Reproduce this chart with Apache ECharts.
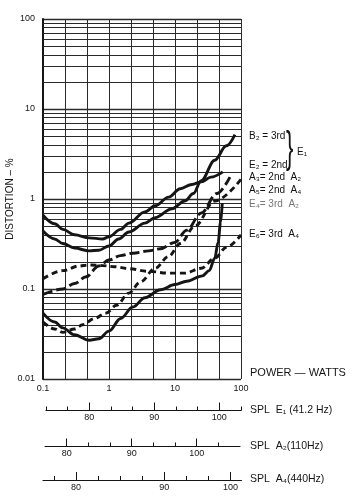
<!DOCTYPE html>
<html><head><meta charset="utf-8">
<script src="https://cdn.jsdelivr.net/npm/echarts@6/dist/echarts.min.js"></script>
<style>html,body{margin:0;padding:0;background:#fff}#c{width:356px;height:500px}</style>
</head><body><div id="c"></div>
<script>
// ---- data (power in watts, distortion in %) ----
const e2W = [0.1, 0.15, 0.2, 0.3, 0.5, 0.8, 1.0, 1.5, 2, 3.5, 5, 8, 12, 18, 25, 35, 53];
const e2D = [0.66, 0.53, 0.46, 0.4, 0.37, 0.36, 0.38, 0.46, 0.54, 0.72, 0.84, 1.05, 1.3, 1.45, 1.55, 1.75, 2.0];

const b2W = [0.1, 0.15, 0.2, 0.3, 0.5, 0.7, 1.0, 1.4, 2, 3.5, 5, 9, 14, 19, 25, 40, 60, 81];
const b2D = [0.44, 0.36, 0.32, 0.285, 0.265, 0.27, 0.3, 0.36, 0.43, 0.54, 0.62, 0.78, 0.95, 1.15, 1.6, 2.7, 3.9, 5.2];

const a3W = [0.1, 0.2, 0.3, 0.45, 0.7, 1, 1.5, 2.3, 4, 6, 10, 15, 25, 43, 68];
const a3D = [0.087, 0.1, 0.115, 0.137, 0.18, 0.21, 0.235, 0.25, 0.265, 0.28, 0.33, 0.45, 0.7, 1.15, 1.75];

const a5W = [0.1, 0.15, 0.2, 0.3, 0.4, 0.6, 0.9, 1.3, 2, 3, 5, 8, 12, 20, 40, 100];
const a5D = [0.043, 0.036, 0.033, 0.036, 0.04, 0.047, 0.054, 0.066, 0.09, 0.12, 0.17, 0.23, 0.32, 0.5, 0.95, 1.65];

const e4W = [0.1, 0.15, 0.2, 0.3, 0.5, 0.7, 1, 1.5, 2.3, 3.5, 6, 10, 15, 26, 33, 40, 45, 49, 52];
const e4D = [0.054, 0.043, 0.037, 0.031, 0.027, 0.028, 0.034, 0.047, 0.063, 0.08, 0.098, 0.112, 0.122, 0.14, 0.16, 0.22, 0.33, 0.55, 0.9];

const e6W = [0.1, 0.2, 0.35, 0.5, 0.8, 1.2, 2, 4, 8, 14, 25, 40, 60, 100];
const e6D = [0.13, 0.16, 0.18, 0.185, 0.182, 0.177, 0.168, 0.157, 0.15, 0.15, 0.17, 0.22, 0.29, 0.4];

// SPL rulers (tick categories; label text where printed)
const splE1Labels = ['', '', '80', '', '', '90', '', '', '100', ''];
const splA2Labels = ['', '80', '', '', '90', '', '', '100', '', ''];
const splA2HasTick = [0, 1, 1, 1, 1, 1, 1, 1, 1, 0];
const splA4Labels = ['', '80', '', '', '', '90', '', '', '100'];

const legendTexts = [
  ['B₂ = 3rd', 136, '#111'],
  ['E₂ = 2nd', 165, '#111'],
  ['A₃= 2nd  A₂', 177, '#111'],
  ['A₅= 2nd  A₄', 190, '#111'],
  ['E₄= 3rd  A₂', 204, '#777'],
  ['E₆= 3rd  A₄', 234, '#111']
];
const rulerTitles = [
  ['SPL  E₁ (41.2 Hz)', 410],
  ['SPL  A₂(110Hz)', 446],
  ['SPL  A₄(440Hz)', 479]
];

// ---- helpers ----
const zip = (xs, ys) => xs.map((x, i) => [x, ys[i]]);
const minorY = [];
[0.01, 0.1, 1, 10].forEach(d => { for (let k = 2; k <= 9; k++) minorY.push(+(d * k).toPrecision(3)); });

const FONT = '"Liberation Sans", "DejaVu Sans", sans-serif';
const INK = '#151515';
const GRIDC = '#2a2a2a';

function curve(name, xs, ys, type) {
  return {
    name, type: 'line', xAxisIndex: 0, yAxisIndex: 0,
    data: zip(xs, ys), showSymbol: false, smooth: 0.35, smoothMonotone: 'x',
    z: 5, silent: true,
    lineStyle: { color: INK, width: 2.9, type: type, cap: 'butt' }
  };
}

function ruler(gridIndex, labels, tickMask, boundary) {
  const base = {
    type: 'category', gridIndex, data: labels, boundaryGap: boundary, position: 'bottom',
    splitLine: { show: false }
  };
  return [
    Object.assign({}, base, {
      axisLine: { show: true, lineStyle: { color: INK, width: 1.2 } },
      axisTick: { show: true, inside: true, length: 4, alignWithLabel: true,
        interval: tickMask ? (i) => !!tickMask[i] : 0, lineStyle: { color: INK, width: 1 } },
      axisLabel: { show: true, interval: 0, fontSize: 9, margin: 3, color: INK, fontFamily: FONT }
    }),
    Object.assign({}, base, {
      axisLine: { show: false },
      axisTick: { show: true, inside: true, length: 8, alignWithLabel: true,
        interval: (i, v) => v !== '', lineStyle: { color: INK, width: 1 } },
      axisLabel: { show: false }
    })
  ];
}

const graphics = [];
legendTexts.forEach(([t, y, c]) => graphics.push({
  type: 'text', x: 249, y, silent: true,
  style: { text: t, fill: c, font: '10px ' + FONT, verticalAlign: 'middle' }
}));
graphics.push({ type: 'text', x: 286, y: 150, scaleX: 0.5, silent: true,
  style: { text: '}', fill: INK, font: '44px ' + FONT, verticalAlign: 'middle' } });
graphics.push({ type: 'text', x: 297, y: 152, silent: true,
  style: { text: 'E₁', fill: INK, font: '10px ' + FONT, verticalAlign: 'middle' } });
graphics.push({ type: 'text', x: 250, y: 373, silent: true,
  style: { text: 'POWER — WATTS', fill: INK, font: '11px ' + FONT, verticalAlign: 'middle' } });
rulerTitles.forEach(([t, y]) => graphics.push({
  type: 'text', x: 250, y, silent: true,
  style: { text: t, fill: INK, font: '10.5px ' + FONT, verticalAlign: 'middle' }
}));
graphics.push({ type: 'text', x: 10, y: 199, rotation: Math.PI / 2, silent: true,
  style: { text: 'DISTORTION – %', fill: INK, font: '10px ' + FONT, align: 'center', verticalAlign: 'middle' } });

const r1 = ruler(1, splE1Labels, null, false);
const r2 = ruler(2, splA2Labels, splA2HasTick, false);
const r3 = ruler(3, splA4Labels, null, true);

const option = {
  backgroundColor: '#ffffff',
  animation: false,
  grid: [
    { left: 43, top: 19, width: 198, height: 360 },
    { left: 46, top: 400, width: 195, height: 10.5 },
    { left: 45, top: 436, width: 195, height: 10.5 },
    { left: 43, top: 469, width: 198.5, height: 11 }
  ],
  xAxis: [
    { type: 'log', logBase: 10, gridIndex: 0, min: 0.1, max: 100, position: 'bottom',
      axisLine: { show: false }, axisTick: { show: false }, splitLine: { show: false },
      axisLabel: { fontSize: 9, color: INK, margin: 5, fontFamily: FONT,
        formatter: v => ({ 0.1: '0.1', 1: '1', 10: '10', 100: '100' }[v] || '') } },
    { type: 'value', gridIndex: 0, min: 0, max: 9, interval: 1, position: 'bottom',
      axisLine: { show: false }, axisTick: { show: false }, axisLabel: { show: false },
      splitLine: { show: true, lineStyle: { color: GRIDC, width: 1 } } },
    ...r1, ...r2, ...r3
  ],
  yAxis: [
    { type: 'log', logBase: 10, gridIndex: 0, min: 0.01, max: 100,
      axisLine: { show: true, lineStyle: { color: INK, width: 2 } }, axisTick: { show: false },
      splitLine: { show: true, lineStyle: { color: GRIDC, width: 1.3 } },
      axisLabel: { fontSize: 9, color: INK, margin: 8, fontFamily: FONT,
        formatter: v => ({ 0.01: '0.01', 0.1: '0.1', 1: '1', 10: '10', 100: '100' }[v] || '') } },
    { type: 'value', gridIndex: 1, show: false },
    { type: 'value', gridIndex: 2, show: false },
    { type: 'value', gridIndex: 3, show: false }
  ],
  graphic: graphics,
  series: [
    { name: 'grid', type: 'line', xAxisIndex: 0, yAxisIndex: 0, data: [], z: 1, silent: true,
      markLine: { silent: true, symbol: ['none', 'none'], label: { show: false }, animation: false,
        lineStyle: { color: GRIDC, width: 1, type: 'solid' },
        data: minorY.map(v => ({ yAxis: v })) } },
    curve('B2 = 3rd E1', b2W, b2D, 'solid'),
    curve('E2 = 2nd E1', e2W, e2D, 'solid'),
    curve('A3 = 2nd A2', a3W, a3D, [10, 4]),
    curve('A5 = 2nd A4', a5W, a5D, [6, 4]),
    curve('E4 = 3rd A2', e4W, e4D, 'solid'),
    curve('E6 = 3rd A4', e6W, e6D, [6, 4])
  ]
};

const chart = echarts.init(document.getElementById('c'), null, { renderer: 'canvas' });
chart.setOption(option);
</script>
</body></html>
